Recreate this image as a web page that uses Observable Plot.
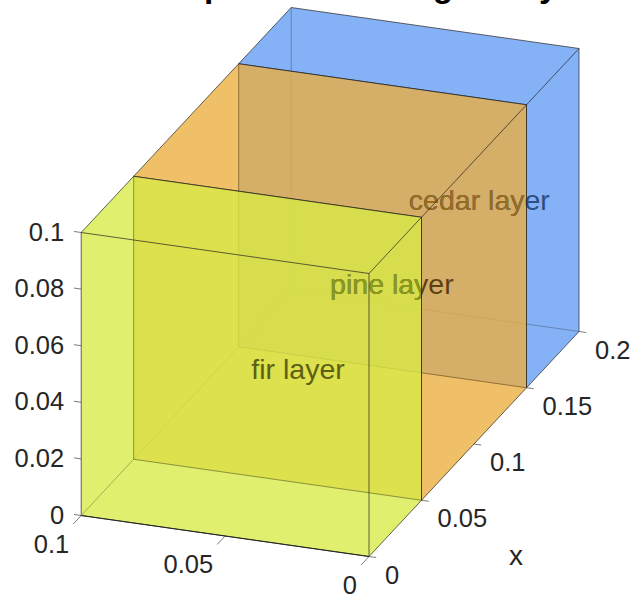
<!DOCTYPE html>
<html><head><meta charset="utf-8">
<script src="https://cdn.jsdelivr.net/npm/d3@7"></script>
<script src="https://cdn.jsdelivr.net/npm/@observablehq/plot@0.6"></script>
<style>html,body{margin:0;padding:0;background:#fff}svg{display:block}</style>
</head><body><div id="chart"></div>
<script>
const layerNames = ["cedar layer", "pine layer", "fir layer"];
const layerStart = [0.15, 0.05, 0];
const layerEnd   = [0.2, 0.15, 0.05];
const layerColor = ["#639cf5", "#ecae3f", "#d7eb45"];
const depth = 0.1, height = 0.1;
const xTicks = [0, 0.05, 0.1, 0.15, 0.2];
const yTicks = [0, 0.05, 0.1];
const zTicks = [0, 0.02, 0.04, 0.06, 0.08, 0.1];
const titleText = "Temperature through 3 layers";

// oblique camera: data (x,y,z) to plane coordinates
const U = (x, y) => 1050 * x - 2878 * y;
const V = (x, y, z) => 1125 * x + 410 * y + 2830 * z;
const P = (x, y, z) => ({u: U(x, y), v: V(x, y, z)});

const hull = (a, b) => [
  P(a, depth, height), P(b, depth, height), P(b, 0, height),
  P(b, 0, 0), P(a, 0, 0), P(a, depth, 0)
];
const seg = (p, q) => ({u1: p.u, v1: p.v, u2: q.u, v2: q.v});
const corners = (a, b) => [[a,0,0],[a,depth,0],[a,depth,height],[a,0,height],[b,0,0],[b,depth,0],[b,depth,height],[b,0,height]].map(d => P(...d));
const shownEdges = [[0,1],[1,2],[2,3],[3,0],[6,7],[7,4],[0,4],[2,6],[3,7]];
const hiddenEdges = [[4,5],[5,6],[1,5]];
const box = i => Plot.line(hull(layerStart[i], layerEnd[i]), {x:"u", y:"v", fill:layerColor[i], fillOpacity:0.78, stroke:"none"});
const edgeMark = (i, list, strokeOpacity) => {
  const c = corners(layerStart[i], layerEnd[i]);
  return Plot.link(list.map(([p, q]) => seg(c[p], c[q])), {x1:"u1", y1:"v1", x2:"u2", y2:"v2", stroke:"#1c1c1c", strokeWidth:0.8, strokeOpacity});
};
const frame = i => [edgeMark(i, hiddenEdges, 0.38), edgeMark(i, shownEdges, 0.85)];

function clipTo(poly, id) {
  return function(index, scales, values, dimensions, context, next) {
    const g = next(index, scales, values, dimensions, context);
    const clip = d3.create("svg:clipPath").attr("id", id);
    clip.append("polygon").attr("points", poly.map(p => `${scales.x(p.u)},${scales.y(p.v)}`).join(" "));
    g.insertBefore(clip.node(), g.firstChild);
    g.setAttribute("clip-path", `url(#${id})`);
    return g;
  };
}
const label = (i, fill, extra = {}) => Plot.text(
  [P((layerStart[i] + layerEnd[i]) / 2, depth / 2, height / 2)],
  {x:"u", y:"v", text:() => layerNames[i], textAnchor:"start", fill, fontSize:28.5, dy:3, ...extra});

const tickColor = "#444", inkColor = "#262626";
const xT = xTicks.map(t => ({t, ...seg(P(t,0,0), P(t,-0.0025,0)), ...P(t,0,0)}));
const yT = yTicks.map(t => ({t, ...seg(P(0,t,0), P(-0.0075,t,0)), ...P(0,t,0)}));
const zT = zTicks.map(t => ({t, ...seg(P(0,depth,t), P(0,depth+0.0025,t)), ...P(0,depth,t)}));
const tick = d => Plot.link(d, {x1:"u1", y1:"v1", x2:"u2", y2:"v2", stroke:tickColor, strokeWidth:0.7});
const tlabel = (d, opts) => Plot.text(d, {x:"u", y:"v", text:d => String(d.t), fill:inkColor, fontSize:25.5, ...opts});

const chart = Plot.plot({
  width:632, height:594, margin:0,
  x:{domain:[-368.5,263.5], range:[0,632], axis:null},
  y:{domain:[-38,556], range:[594,0], axis:null},
  style:{fontFamily:"'Liberation Sans',Arial,sans-serif", background:"#fff", overflow:"hidden"},
  marks:[
    box(0), frame(0),
    box(1),
    label(0, "#2e4e80"),
    label(0, "#9a6c1e", {render: clipTo(hull(layerStart[1], layerEnd[1]), "orangeClip")}),
    frame(1),
    box(2),
    label(1, "#5c3f14"),
    label(1, "#8a9a1e", {render: clipTo(hull(layerStart[2], layerEnd[2]), "yellowClip")}),
    label(2, "#5c6014"),
    frame(2),
    tick(xT), tick(yT), tick(zT),
    Plot.link([seg(P(0,0,0), P(0,depth,0))], {x1:"u1", y1:"v1", x2:"u2", y2:"v2", stroke:"#222", strokeWidth:1}),
    tlabel(xT, {textAnchor:"start", dx:16, dy:19}),
    tlabel(yT, {textAnchor:"end", dx:-12, dy:29}),
    tlabel(zT, {textAnchor:"end", dx:-17, dy:0}),
    Plot.text([P(0.1,0,0)], {x:"u", y:"v", text:() => "x", fill:inkColor, fontSize:28, dx:42, dy:112}),
    Plot.text([titleText], {frameAnchor:"top-left", text:d => d, textAnchor:"start", lineAnchor:"bottom", dx:137, dy:-4, fontSize:33.5, fontWeight:"bold", fill:"#000"})
  ]
});
document.getElementById("chart").append(chart);
</script></body></html>
